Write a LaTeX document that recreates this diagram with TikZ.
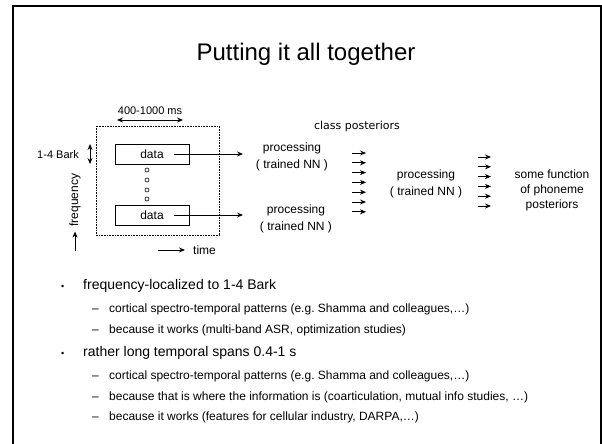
\documentclass[tikz,border=0pt]{standalone}
\usepackage{fontspec}
\setmainfont{Liberation Sans}
\newfontfamily\plainsans{DejaVu Sans}
\usetikzlibrary{positioning,arrows.meta}
\frenchspacing

\begin{document}
\begin{tikzpicture}[x=1pt,y=-1pt,>={Stealth[length=6pt,width=5pt]},
    every node/.style={inner sep=0pt},
    lbl/.style={font=\fontsize{12}{17}\selectfont,align=center},
    tiny/.style={font=\fontsize{11}{13}\selectfont},
    databox/.style={draw,line width=0.8pt,minimum width=74pt,minimum height=20pt,
      font=\fontsize{12}{14}\selectfont},
    item/.style={anchor=base west,font=\fontsize{14}{16}\selectfont},
    subitem/.style={anchor=base west,font=\fontsize{12}{14}\selectfont},
    conn/.style={->,line width=0.8pt}]

    \useasboundingbox (0,0) rectangle (602,444);
    \draw[line width=2pt] (13,444) -- (13,6) -- (601,6) -- (601,444);

    \node[anchor=base,font=\fontsize{24}{28}\selectfont] (title) at (306,60) {Putting it all together};

    % input window
    \draw[densely dotted,line width=0.6pt] (96,126) rectangle (219,235);
    \node[tiny,anchor=base] (span) at (150,114) {400-1000 ms};
    \coordinate (spanL) at (117,120);
    \coordinate (spanR) at (183,120);
    \draw[<->,line width=0.8pt] (spanL) -- (spanR);

    \node[tiny,anchor=base east] (bark) at (79,158) {1-4 Bark};
    \coordinate (barkT) at (90,144);
    \coordinate (barkB) at (90,164);
    \draw[<->,line width=0.8pt] (barkT) -- (barkB);

    \node[databox] (d1) at (152,154) {data};
    \node[databox] (d2) at (152,215) {data};
    \foreach \y in {170,180,190,199} {\draw[line width=0.6pt] (147,\y) circle (2pt);};

    \node[lbl,rotate=90] (freq) at (75,200) {frequency};
    \coordinate (freq0) at (75,251);
    \draw[conn,shorten >=5pt] (freq0) -- (freq.west);

    \node[lbl,anchor=west] (time) at (193,250) {time};
    \coordinate (time0) at (158,250);
    \draw[conn,shorten >=8pt] (time0) -- (time.west);

    % processing stages
    \coordinate (o1) at (243,154);
    \coordinate (o2) at (243,215);
    \path ([xshift=22pt]d1.center) edge[conn] (o1)
          ([xshift=22pt]d2.center) edge[conn] (o2);

    \node[lbl] (proc1) at (292,157) {processing\\( trained NN )};
    \node[lbl] (proc2) at (296,219) {processing\\( trained NN )};
    \node[lbl] (proc3) at (426,184) {processing\\( trained NN )};
    \node[font=\plainsans\fontsize{11}{13}\selectfont] (post) at (357,126) {class posteriors};

    \foreach \i in {0,...,6} {
      \coordinate (pa\i) at (352,153+9.8*\i);
      \coordinate (pb\i) at (366,153+9.8*\i);
      \draw[conn] (pa\i) -- (pb\i);
    };
    \foreach \i in {0,...,5} {
      \coordinate (qa\i) at (478,157+9.8*\i);
      \coordinate (qb\i) at (491,157+9.8*\i);
      \draw[conn] (qa\i) -- (qb\i);
    };

    \node[font=\fontsize{12}{15}\selectfont,align=center] (func) at (552,190) {some function\\of phoneme\\posteriors};

    % bullets
    \foreach \y in {289,356} {\node[anchor=base west,font=\fontsize{9}{10}\selectfont] at (61,\y) {•};};
    \foreach \y in {312,333,379,400,420} {\node[subitem] at (92,\y) {–};};

    \node[item] (i1) at (83,289) {frequency-localized to 1-4 Bark};
    \node[subitem] (s11) at (109,312) {cortical spectro-temporal patterns (e.g. Shamma and colleagues,…)};
    \node[subitem] (s12) at (109,333) {because it works (multi-band ASR, optimization studies)};
    \node[item] (i2) at (83,356) {rather long temporal spans 0.4-1 s};
    \node[subitem] (s21) at (109,379) {cortical spectro-temporal patterns (e.g. Shamma and colleagues,…)};
    \node[subitem] (s22) at (109,400) {because that is where the information is (coarticulation, mutual info studies, …)};
    \node[subitem] (s23) at (109,420) {because it works (features for cellular industry, DARPA,…)};
\end{tikzpicture}
\end{document}
